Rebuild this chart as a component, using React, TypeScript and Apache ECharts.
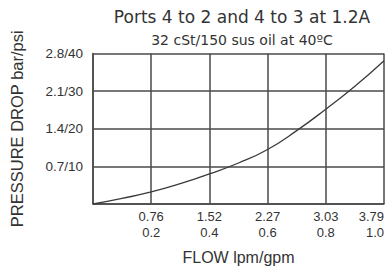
import React, { useEffect, useRef } from "react";
import * as echarts from "echarts";

const titleText = "Ports 4 to 2 and 4 to 3 at 1.2A";
const subtitleText = "32 cSt/150 sus oil at 40ºC";
const xName = "FLOW lpm/gpm";
const yName = "PRESSURE DROP bar/psi";

const gpmTicks = [0.2, 0.4, 0.6, 0.8, 1.0];
const lpmLabels = ["0.76", "1.52", "2.27", "3.03", "3.79"];
const gpmLabels = ["0.2", "0.4", "0.6", "0.8", "1.0"];
const psiTicks = [10, 20, 30, 40];
const barLabels = ["0.7", "1.4", "2.1", "2.8"];

const flowGpm = [0, 0.1, 0.2, 0.3, 0.4, 0.5, 0.6, 0.7, 0.8, 0.9, 1.0];
const dropPsi = [0, 1.5, 3.2, 5.4, 8.0, 10.9, 14.5, 19.5, 25.2, 31.3, 38.1];

const TEXT = "#333333";
const GRID = "#4a4a4a";
const FONT = "'Liberation Sans', Arial, sans-serif";
const WIDE = "'DejaVu Sans', 'Liberation Sans', sans-serif";

export default function App() {
  const ref = useRef<HTMLDivElement>(null);
  useEffect(() => {
    if (!ref.current) return;
    const chart = echarts.init(ref.current, undefined, { renderer: "svg" });
    chart.setOption({
      animation: false,
      backgroundColor: "#ffffff",
      textStyle: { fontFamily: FONT },
      title: [
        {
          text: titleText,
          left: 237,
          top: 3,
          textAlign: "center",
          textStyle: { fontSize: 17, fontWeight: "normal", color: TEXT, fontFamily: WIDE },
        },
        {
          text: subtitleText,
          left: 237,
          top: 28,
          textAlign: "center",
          textStyle: { fontSize: 14, fontWeight: "normal", color: TEXT, fontFamily: WIDE },
        },
      ],
      grid: { left: 92, right: 8, top: 53.5, bottom: 67, containLabel: false },
      xAxis: {
        type: "value",
        min: 0,
        max: 1,
        interval: 0.2,
        name: xName,
        nameLocation: "middle",
        nameGap: 45,
        nameTextStyle: { fontSize: 16, color: TEXT, fontFamily: FONT },
        axisLine: { show: true, lineStyle: { color: GRID, width: 1.5 } },
        axisTick: { show: false },
        splitLine: { show: true, lineStyle: { color: GRID, width: 1.5 } },
        axisLabel: {
          color: TEXT,
          fontSize: 13,
          lineHeight: 16,
          margin: 4,
          alignMaxLabel: "right",
          formatter: (v: number) => {
            const i = gpmTicks.findIndex((t) => Math.abs(t - v) < 1e-6);
            if (i < 0) return "";
            return lpmLabels[i] + "\n" + gpmLabels[i];
          },
        },
      },
      yAxis: {
        type: "value",
        min: 0,
        max: 40,
        interval: 10,
        name: yName,
        nameLocation: "middle",
        nameGap: 68,
        nameTextStyle: { fontSize: 16.5, color: TEXT, fontFamily: FONT },
        axisLine: { show: true, lineStyle: { color: GRID, width: 1.5 } },
        axisTick: { show: false },
        splitLine: { show: true, lineStyle: { color: GRID, width: 1.5 } },
        axisLabel: {
          color: TEXT,
          fontSize: 13.5,
          margin: 10,
          formatter: (v: number) => {
            const i = psiTicks.indexOf(v);
            if (i < 0) return "";
            return barLabels[i] + "/" + psiTicks[i];
          },
        },
      },
      series: [
        {
          type: "line",
          data: flowGpm.map((g, i) => [g, dropPsi[i]]),
          smooth: 0.5,
          symbol: "none",
          lineStyle: { color: "#3a3a3a", width: 1.3 },
        },
      ],
    });
    return () => chart.dispose();
  }, []);
  return (
    <div
      ref={ref}
      style={{ position: "fixed", left: 0, top: 0, width: 392, height: 271, background: "#fff" }}
    />
  );
}
